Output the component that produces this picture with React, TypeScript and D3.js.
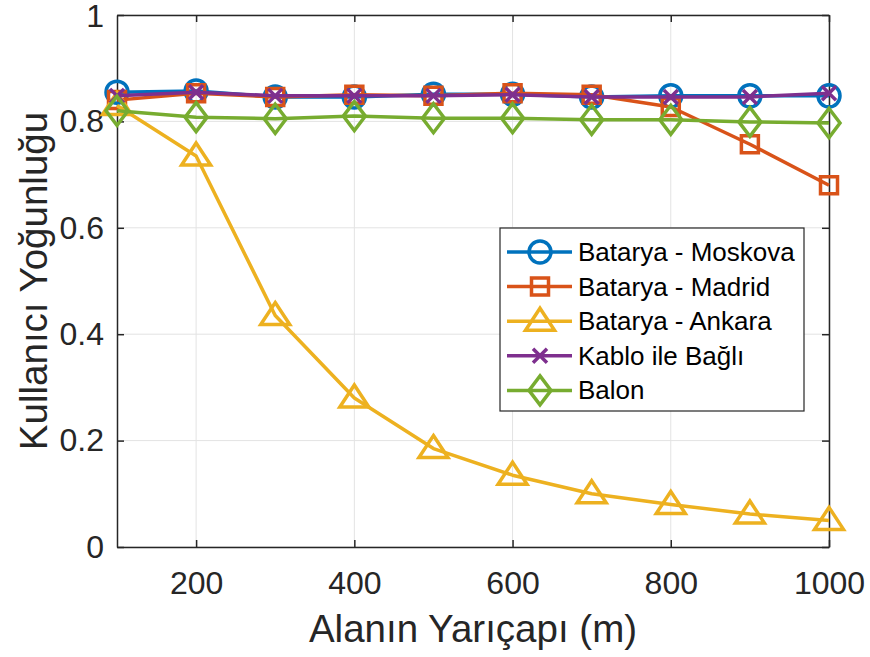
import React, { useEffect, useRef } from 'react';
import * as d3 from 'd3';

const radii = [100, 200, 300, 400, 500, 600, 700, 800, 900, 1000];
const moskova = [0.855, 0.857, 0.846, 0.846, 0.851, 0.851, 0.846, 0.848, 0.848, 0.848];
const madrid = [0.84, 0.853, 0.846, 0.85, 0.848, 0.853, 0.85, 0.827, 0.757, 0.68];
const ankara = [0.83, 0.735, 0.435, 0.28, 0.185, 0.135, 0.1, 0.08, 0.062, 0.05];
const kablo = [0.848, 0.855, 0.848, 0.848, 0.848, 0.85, 0.846, 0.846, 0.846, 0.853];
const balon = [0.82, 0.808, 0.805, 0.81, 0.806, 0.806, 0.803, 0.803, 0.799, 0.797];

const seriesNames = ['Batarya - Moskova', 'Batarya - Madrid', 'Batarya - Ankara', 'Kablo ile Bağlı', 'Balon'];
const seriesColors = ['#0072BD', '#D95319', '#EDB120', '#7E2F8E', '#77AC30'];
const seriesMarkers = ['circle', 'square', 'triangle', 'cross', 'diamond'];
const xTicks = [200, 400, 600, 800, 1000];
const yTicks = [0, 0.2, 0.4, 0.6, 0.8, 1];

const markerPath = (type: string) => {
  switch (type) {
    case 'circle':
      return d3.symbol(d3.symbolCircle, Math.PI * 11 * 11)();
    case 'square':
      return 'M-8.5,-8.5H8.5V8.5H-8.5Z';
    case 'triangle':
      return 'M0,-13L14.5,9H-14.5Z';
    case 'cross':
      return 'M-7,-7L7,7M-7,7L7,-7';
    default:
      return 'M0,-14.5L11,0L0,14.5L-11,0Z';
  }
};

const App = () => {
  const svgRef = useRef<SVGSVGElement>(null);

  useEffect(() => {
    const W = 870;
    const H = 657;
    const margin = { top: 15, right: 41, bottom: 110, left: 117 };
    const width = W - margin.left - margin.right;
    const height = H - margin.top - margin.bottom;
    const font = 'Liberation Sans, Arial, sans-serif';

    d3.select(svgRef.current).selectAll('*').remove();

    const root = d3.select(svgRef.current).attr('width', W).attr('height', H);
    root.append('rect').attr('width', W).attr('height', H).attr('fill', 'white');

    const svg = root.append('g').attr('transform', `translate(${margin.left}, ${margin.top})`);

    const x = d3.scaleLinear().domain([100, 1000]).range([0, width]);
    const y = d3.scaleLinear().domain([0, 1]).range([height, 0]);

    // grid
    svg
      .append('g')
      .selectAll('line')
      .data(xTicks)
      .enter()
      .append('line')
      .attr('x1', d => x(d))
      .attr('x2', d => x(d))
      .attr('y1', 0)
      .attr('y2', height)
      .attr('stroke', '#e3e3e3')
      .attr('stroke-width', 1);
    svg
      .append('g')
      .selectAll('line')
      .data(yTicks)
      .enter()
      .append('line')
      .attr('x1', 0)
      .attr('x2', width)
      .attr('y1', d => y(d))
      .attr('y2', d => y(d))
      .attr('stroke', '#e3e3e3')
      .attr('stroke-width', 1);

    // axes (ticks inside, box on all sides)
    const xAxis = svg
      .append('g')
      .attr('transform', `translate(0, ${height})`)
      .call(d3.axisBottom(x).tickValues(xTicks).tickFormat(d3.format('d')).tickSize(-7).tickPadding(24).tickSizeOuter(0));
    const yAxis = svg
      .append('g')
      .call(d3.axisLeft(y).tickValues(yTicks).tickFormat(d3.format('~g')).tickSize(-7).tickPadding(13).tickSizeOuter(0));
    svg
      .append('g')
      .call(d3.axisTop(x).tickValues(xTicks).tickSize(-7).tickFormat(() => '').tickSizeOuter(0));
    svg
      .append('g')
      .attr('transform', `translate(${width}, 0)`)
      .call(d3.axisRight(y).tickValues(yTicks).tickSize(-7).tickFormat(() => '').tickSizeOuter(0));

    svg.selectAll('.domain').attr('stroke', '#262626').attr('stroke-width', 1.5);
    svg.selectAll('.tick line').attr('stroke', '#262626').attr('stroke-width', 1.5);
    [xAxis, yAxis].forEach(a =>
      a.selectAll('text').style('font-family', font).style('font-size', '32px').attr('fill', '#262626')
    );
    // keep the top "1" label inside the page
    yAxis.selectAll('text').filter(d => d === 1).attr('dy', '0.36em');

    // axis labels
    svg
      .append('text')
      .attr('x', width / 2)
      .attr('y', height + 95)
      .attr('text-anchor', 'middle')
      .style('font-family', font)
      .style('font-size', '38.5px')
      .attr('fill', '#262626')
      .text('Alanın Yarıçapı (m)');

    svg
      .append('text')
      .attr('transform', 'rotate(-90)')
      .attr('x', -height / 2)
      .attr('y', -70)
      .attr('text-anchor', 'middle')
      .style('font-family', font)
      .style('font-size', '38.5px')
      .attr('fill', '#262626')
      .text('Kullanıcı Yoğunluğu');

    const allSeries = [moskova, madrid, ankara, kablo, balon];
    const line = d3
      .line<number>()
      .x((_, i) => x(radii[i]))
      .y(d => y(d));

    allSeries.forEach((vals, s) => {
      const g = svg.append('g');
      g.append('path')
        .attr('d', line(vals))
        .attr('fill', 'none')
        .attr('stroke', seriesColors[s])
        .attr('stroke-width', 3.5)
        .attr('stroke-linejoin', 'round');
      g.selectAll('path.m')
        .data(vals)
        .enter()
        .append('path')
        .attr('class', 'm')
        .attr('d', markerPath(seriesMarkers[s]))
        .attr('transform', (d, i) => `translate(${x(radii[i])}, ${y(d)})`)
        .attr('fill', 'none')
        .attr('stroke', seriesColors[s])
        .attr('stroke-width', 3.5);
    });

    // legend
    const lx = 500 - margin.left;
    const ly = 228 - margin.top;
    const legend = svg.append('g').attr('transform', `translate(${lx}, ${ly})`);
    legend
      .append('rect')
      .attr('width', 304)
      .attr('height', 183)
      .attr('fill', 'white')
      .attr('stroke', '#262626')
      .attr('stroke-width', 1.2);

    const items = legend
      .selectAll('.item')
      .data(seriesNames)
      .enter()
      .append('g')
      .attr('transform', (_, i) => `translate(0, ${24 + i * 34.6})`);
    items
      .append('line')
      .attr('x1', 7)
      .attr('x2', 72)
      .attr('stroke', (_, i) => seriesColors[i])
      .attr('stroke-width', 3.5);
    items
      .append('path')
      .attr('d', (_, i) => markerPath(seriesMarkers[i]))
      .attr('transform', 'translate(40, 0)')
      .attr('fill', 'none')
      .attr('stroke', (_, i) => seriesColors[i])
      .attr('stroke-width', 3.5);
    items
      .append('text')
      .attr('x', 78)
      .attr('y', 9)
      .style('font-family', font)
      .style('font-size', '26px')
      .attr('fill', '#000')
      .text(d => d);
  }, []);

  return <svg ref={svgRef} style={{ display: 'block', position: 'absolute', left: 0, top: 0 }}></svg>;
};

export default App;
